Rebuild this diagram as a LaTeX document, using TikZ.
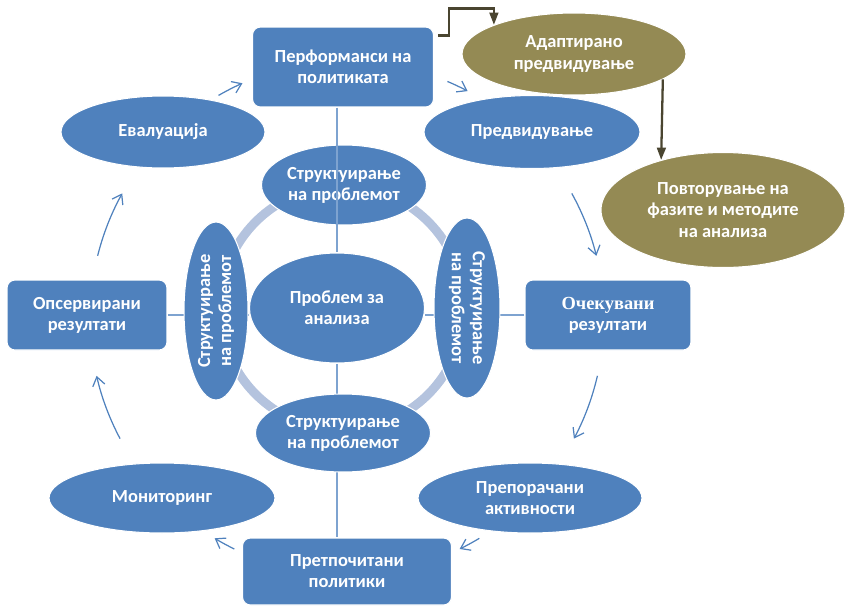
\documentclass[tikz,border=0pt]{standalone}
\usepackage{fontspec}
\setmainfont{Carlito}
\newfontfamily\serifbf{Liberation Serif}
\usetikzlibrary{arrows.meta,backgrounds,shapes.geometric}

\definecolor{accblue}{HTML}{4F81BD}
\definecolor{olivefill}{HTML}{948A54}
\definecolor{olivedark}{HTML}{4A4530}
\definecolor{ringblue}{HTML}{B4C3DE}
\definecolor{lineblue}{HTML}{7EA3D0}

\newcommand{\lbl}{\bfseries\fontsize{10.5}{12}\selectfont}

\begin{document}
\begin{tikzpicture}[x=0.02cm,y=0.02cm,
    box/.style={rectangle, rounded corners=0.16cm, fill=accblue, draw=white,
        line width=0.6pt, text=white, align=center, font=\lbl, inner sep=0pt},
    oval/.style={ellipse, fill=accblue, draw=white, line width=0.6pt,
        text=white, align=center, font=\lbl, inner sep=0pt},
    oliveoval/.style={oval, fill=olivefill},
    ring/.style={ringblue, line width=0.18cm},
    spoke/.style={lineblue, line width=0.8pt},
    cyc/.style={accblue, line width=0.7pt, -{Straight Barb[length=5pt,width=7pt]}},
    adaptarrow/.style={olivedark, line width=1.3pt, -{Triangle[length=7pt,width=5pt]}}]

    %Picture frame, in pixels of the original
    \useasboundingbox (0,0) rectangle (846,-606);

    %Radius of the cycle arrows and of the ring
    \pgfmathsetmacro{\rc}{257}
    \pgfmathsetmacro{\rr}{122}
    \coordinate (cyc) at (347,-318);
    \coordinate (ringc) at (342,-308);

    %Outer boxes
    \node[box, minimum width=3.62cm, minimum height=1.60cm] (perf) at (343,-67) {Перформанси на\\политиката};
    \node[box, minimum width=3.20cm, minimum height=1.40cm] (obs) at (87,-315) {Опсервирани\\резултати};
    \node[box, minimum width=3.32cm, minimum height=1.40cm] (expct) at (608,-315) {{\serifbf\bfseries Очекувани}\\резултати};
    \node[box, minimum width=4.18cm, minimum height=1.34cm] (pref) at (347,-571.5) {Претпочитани\\политики};

    %Outer ellipses
    \node[oval, minimum width=4.32cm, minimum height=1.46cm] (fore) at (532,-132) {Предвидување};
    \node[oval, minimum width=4.08cm, minimum height=1.44cm] (evalu) at (163,-132) {Евалуација};
    \node[oval, minimum width=4.52cm, minimum height=1.40cm] (monit) at (162,-498) {Мониторинг};
    \node[oval, minimum width=4.48cm, minimum height=1.40cm] (recom) at (530,-498) {Препорачани\\активности};

    %Adapted branch
    \node[oliveoval, minimum width=4.48cm, minimum height=1.64cm] (adapt) at (574,-54) {Адаптирано\\предвидување};
    \node[oliveoval, minimum width=4.88cm, minimum height=2.30cm] (repet) at (723,-210) {Повторување на\\фазите и методите\\на анализа};

    %Inner ellipses
    \node[oval, minimum width=3.30cm, minimum height=1.60cm] (strtop) at (344,-185) {Структуирање\\на проблемот};
    \node[oval, minimum width=3.50cm, minimum height=1.56cm] (strbot) at (343,-433) {Структуирање\\на проблемот};
    \node[oval, rotate=90, minimum width=3.56cm, minimum height=1.28cm] (strleft) at (216,-311) {Структуирање\\на проблемот};
    \node[oval, rotate=-90, minimum width=3.60cm, minimum height=1.32cm] (strright) at (467,-308) {Структуирање\\на проблемот};
    \node[oval, minimum width=3.50cm, minimum height=2.20cm] (prob) at (337,-308) {Проблем за\\анализа};

    %Ring and spokes behind the ellipses
    \begin{scope}[on background layer]
        \draw[ring] (ringc) circle[radius=\rr];
        \draw[spoke] (obs.east) -- (obs.east -| prob.west);
        \draw[spoke] (expct.west) -- (expct.west -| prob.east);
        \draw[spoke] (prob.south) -- (prob.south |- pref.north);
    \end{scope}
    \draw[spoke] (prob.north |- perf.south) -- (prob.north);

    %Cycle arrows
    \foreach \a/\b in {120/114, 67/62, 29/14, -13/-28, -59/-64, 244/239, 208/193, 166/151}
        \draw[cyc] (cyc) ++(\a:\rc) arc[start angle=\a, end angle=\b, radius=\rc];

    %Olive arrows
    \draw[adaptarrow] ([shift={(4,-9)}]perf.north east) -- ++(11,0) -- ++(0,27) -| (adapt.160);
    \draw[adaptarrow] (adapt.-16) -- (repet.141);

\end{tikzpicture}
\end{document}
